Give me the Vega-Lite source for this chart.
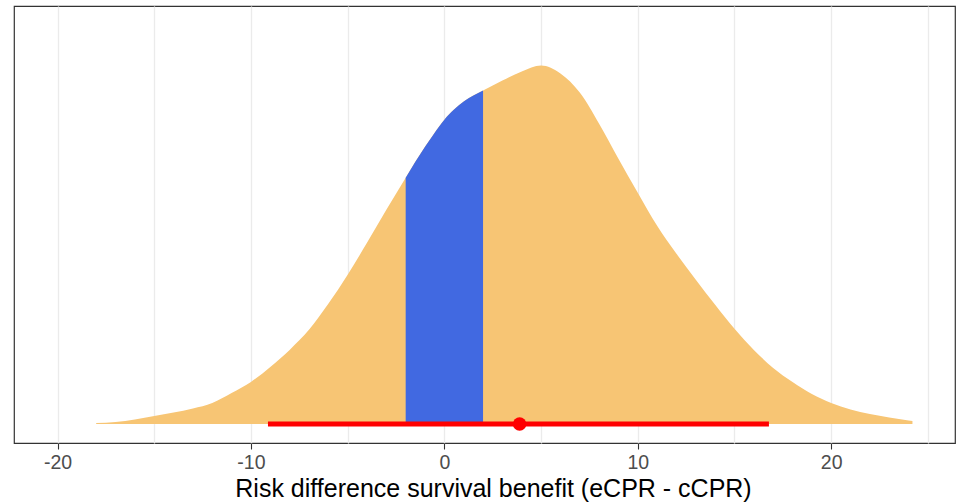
{
  "$schema": "https://vega.github.io/schema/vega-lite/v6.json",
  "autosize": {"type": "none"},
  "width": 941,
  "height": 437,
  "padding": {"left": 14, "top": 6, "right": 2, "bottom": 61},
  "background": "white",
  "config": {
    "view": {"stroke": "#333333", "strokeWidth": 1.2},
    "font": "Liberation Sans",
    "axis": {"domain": false}
  },
  "datasets": {
    "dens": [
      {"x": -18.0, "density": 0.0002},
      {"x": -17.0, "density": 0.0004},
      {"x": -16.0, "density": 0.0009},
      {"x": -15.0, "density": 0.0016},
      {"x": -14.0, "density": 0.0023},
      {"x": -13.0, "density": 0.0031},
      {"x": -12.0, "density": 0.0042},
      {"x": -11.0, "density": 0.0062},
      {"x": -10.0, "density": 0.0084},
      {"x": -9.0, "density": 0.0114},
      {"x": -8.0, "density": 0.0148},
      {"x": -7.0, "density": 0.0188},
      {"x": -6.0, "density": 0.0240},
      {"x": -5.0, "density": 0.0298},
      {"x": -4.0, "density": 0.0362},
      {"x": -3.0, "density": 0.0428},
      {"x": -2.0, "density": 0.0492},
      {"x": -1.5, "density": 0.0524},
      {"x": -1.0, "density": 0.0554},
      {"x": -0.5, "density": 0.0582},
      {"x": 0.0, "density": 0.0608},
      {"x": 0.5, "density": 0.0628},
      {"x": 1.0, "density": 0.0644},
      {"x": 1.5, "density": 0.0656},
      {"x": 2.0, "density": 0.0666},
      {"x": 3.0, "density": 0.0686},
      {"x": 4.0, "density": 0.0704},
      {"x": 5.0, "density": 0.0716},
      {"x": 6.0, "density": 0.0700},
      {"x": 7.0, "density": 0.0662},
      {"x": 8.0, "density": 0.0600},
      {"x": 9.0, "density": 0.0530},
      {"x": 10.0, "density": 0.0462},
      {"x": 11.0, "density": 0.0396},
      {"x": 12.0, "density": 0.0340},
      {"x": 13.0, "density": 0.0288},
      {"x": 14.0, "density": 0.0238},
      {"x": 15.0, "density": 0.0190},
      {"x": 16.0, "density": 0.0148},
      {"x": 17.0, "density": 0.0112},
      {"x": 18.0, "density": 0.0084},
      {"x": 19.0, "density": 0.0060},
      {"x": 20.0, "density": 0.0042},
      {"x": 21.0, "density": 0.0029},
      {"x": 22.0, "density": 0.0020},
      {"x": 23.0, "density": 0.0013},
      {"x": 24.0, "density": 0.0007},
      {"x": 24.2, "density": 0.0006}
    ],
    "blue": [
      {"x": -2.0, "density": 0.0492},
      {"x": -1.5, "density": 0.0524},
      {"x": -1.0, "density": 0.0554},
      {"x": -0.5, "density": 0.0582},
      {"x": 0.0, "density": 0.0608},
      {"x": 0.5, "density": 0.0628},
      {"x": 1.0, "density": 0.0644},
      {"x": 1.5, "density": 0.0656},
      {"x": 2.0, "density": 0.0666}
    ],
    "interval": [
      {"x": -9.12, "x2": 16.78, "density": 0}
    ],
    "estimate": [
      {"x": 3.89, "density": 0}
    ]
  },
  "layer": [
    {
      "data": {"name": "dens"},
      "mark": {"type": "area", "interpolate": "monotone", "color": "#F7C574"},
      "encoding": {
        "x": {
          "field": "x", "type": "quantitative",
          "title": "Risk difference survival benefit (eCPR - cCPR)",
          "scale": {"domain": [-22.25, 26.4], "nice": false, "zero": false},
          "axis": {
            "values": [-20, -15, -10, -5, 0, 5, 10, 15, 20, 25],
            "labelExpr": "datum.value % 10 === 0 ? '' + datum.value : ''",
            "grid": true,
            "gridColor": "#ebebeb",
            "gridWidth": 1.3,
            "tickColor": "#333333",
            "tickSize": 6,
            "tickWidth": 1.1,
            "tickOpacity": {"condition": {"test": "datum.value % 10 !== 0", "value": 0}, "value": 1},
            "labelColor": "#4d4d4d",
            "labelFontSize": 19.5,
            "labelFont": "Liberation Sans",
            "labelPadding": 4,
            "titleFontSize": 25,
            "titleFont": "Liberation Sans",
            "titleFontWeight": "normal",
            "titleColor": "#000000",
            "titlePadding": 5,
            "titleX": 479,
            "titleAlign": "center"
          }
        },
        "y": {
          "field": "density", "type": "quantitative",
          "axis": null,
          "scale": {"domain": [-0.0038, 0.0835], "nice": false, "zero": false}
        }
      }
    },
    {
      "data": {"name": "blue"},
      "mark": {"type": "area", "interpolate": "monotone", "color": "#4169E1"},
      "encoding": {
        "x": {"field": "x", "type": "quantitative"},
        "y": {"field": "density", "type": "quantitative"}
      }
    },
    {
      "data": {"name": "interval"},
      "mark": {"type": "rule", "color": "#FF0000", "strokeWidth": 5},
      "encoding": {
        "x": {"field": "x", "type": "quantitative"},
        "x2": {"field": "x2"},
        "y": {"field": "density", "type": "quantitative"}
      }
    },
    {
      "data": {"name": "estimate"},
      "mark": {"type": "point", "filled": true, "color": "#FF0000", "opacity": 1, "size": 180},
      "encoding": {
        "x": {"field": "x", "type": "quantitative"},
        "y": {"field": "density", "type": "quantitative"}
      }
    }
  ]
}
